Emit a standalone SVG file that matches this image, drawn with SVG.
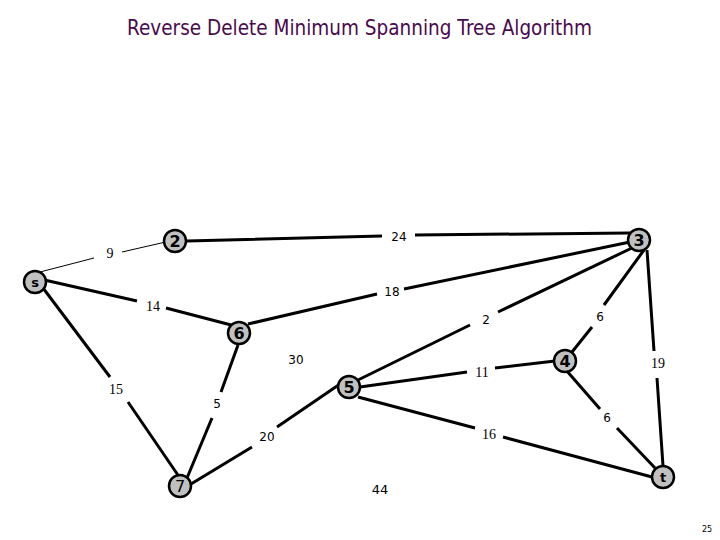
<svg xmlns="http://www.w3.org/2000/svg" width="720" height="540" viewBox="0 0 720 540">
<style>
.e{stroke:#000;stroke-width:3;fill:none;stroke-linecap:butt}
.thin{stroke:#000;stroke-width:1;fill:none}
.n circle{fill:#c0c0c0;stroke:#000;stroke-width:2.5}
.n text{font-family:"DejaVu Sans",sans-serif;font-weight:bold;font-size:16px;text-anchor:middle;fill:#000}
.ls{font-family:"DejaVu Sans","Liberation Sans",sans-serif;font-size:12px;text-anchor:middle;fill:#000}
.lt{font-family:"Liberation Serif",serif;font-size:14px;text-anchor:middle;fill:#000}
.title{font-family:"DejaVu Sans",sans-serif;font-size:21px;fill:#4a0a4e}
</style>
<rect width="720" height="540" fill="#fff"/>
<text class="title" x="127" y="35" textLength="465" lengthAdjust="spacingAndGlyphs">Reverse Delete Minimum Spanning Tree Algorithm</text>
<g id="connectors">
<path class="thin" d="M40 272 L94 258 M122 252 L170 241"/>
<path class="e" d="M40 279 L137 301 M166 308 L235 326"/>
<path class="e" d="M40 284 L110 377 M128 402 L182 481"/>
<path class="e" d="M187 241 L382 236 M415 235 L630 233"/>
<path class="e" d="M248 324 L377 294 M404 289 L630 242"/>
<path class="e" d="M358 380 L470 325 M498 312 L634 247"/>
<path class="e" d="M644 250 L604 305 M592 327 L572 352"/>
<path class="e" d="M647 250 L654 351 M657 378 L663 466"/>
<path class="e" d="M360 387 L467 372 M495 368 L555 361"/>
<path class="e" d="M566 370 L600 409 M617 428 L655 468"/>
<path class="e" d="M358 397 L475 428 M503 437 L652 477"/>
<path class="e" d="M238 345 L221 392 M212 418 L187 478"/>
<path class="e" d="M191 484 L252 447 M277 427 L340 384"/>
</g>
<g id="edge-labels">
<text class="lt" x="110" y="258">9</text>
<text class="lt" x="153" y="311">14</text>
<text class="lt" x="116" y="394">15</text>
<text class="ls" x="399" y="241">24</text>
<text class="ls" x="392" y="296">18</text>
<text class="ls" x="486" y="324">2</text>
<text class="ls" x="600" y="321">6</text>
<text class="ls" x="296" y="364">30</text>
<text class="lt" x="482" y="377">11</text>
<text class="lt" x="658" y="368">19</text>
<text class="ls" x="607" y="422">6</text>
<text class="lt" x="489" y="439">16</text>
<text class="ls" x="217" y="408">5</text>
<text class="ls" x="267" y="441">20</text>
<text class="ls" x="380" y="494" style="font-size:13px">44</text>
</g>
<g id="node-s" class="n"><circle cx="35" cy="282" r="11"/><text x="35" y="287" style="font-size:13px">s</text></g>
<g id="node-2" class="n"><circle cx="175" cy="241" r="11"/><text x="175" y="247">2</text></g>
<g id="node-3" class="n"><circle cx="639" cy="240" r="11"/><text x="639" y="246">3</text></g>
<g id="node-6" class="n"><circle cx="239" cy="333" r="11"/><text x="239" y="339">6</text></g>
<g id="node-5" class="n"><circle cx="349" cy="387" r="11"/><text x="349" y="393">5</text></g>
<g id="node-4" class="n"><circle cx="565" cy="361" r="11"/><text x="565" y="367">4</text></g>
<g id="node-7" class="n"><circle cx="180" cy="486" r="11"/><text x="180" y="492" style="font-weight:normal">7</text></g>
<g id="node-t" class="n"><circle cx="663" cy="477" r="11"/><text x="663" y="482" style="font-size:13px">t</text></g>
<text x="707" y="532" style="font-family:'DejaVu Sans',sans-serif;font-size:8px;text-anchor:middle">25</text>
</svg>
